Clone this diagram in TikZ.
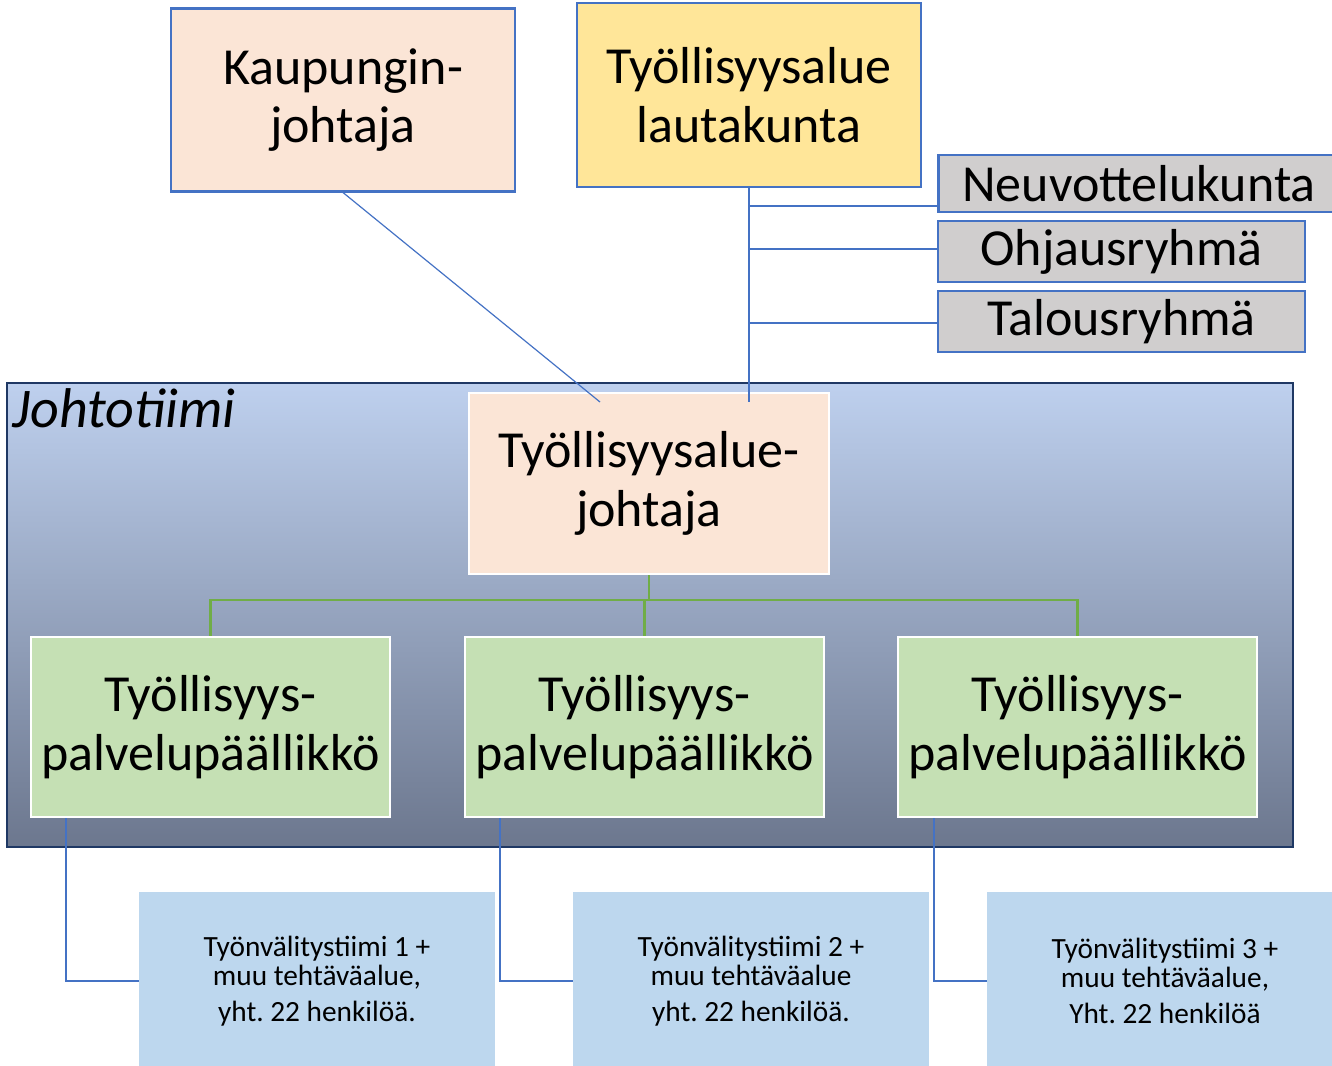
\documentclass[tikz,border=0pt]{standalone}
\usepackage{fontspec}
\setmainfont{Carlito}
\usetikzlibrary{calc}
\frenchspacing

\tikzset{every picture/.style={line width=0.75pt}}

\begin{document}
\begin{tikzpicture}[x=0.75pt,y=0.75pt,yscale=-1,xscale=1,
  bigtext/.style={font=\fontsize{39}{44}\selectfont, align=center, inner sep=0pt},
  smalltext/.style={font=\fontsize{22}{22}\selectfont, align=center, inner sep=0pt},
  bluebox/.style={bigtext, draw={rgb, 255:red, 68; green, 114; blue, 196 }, line width=1.8pt},
  whitebox/.style={bigtext, draw=white, line width=1.8pt},
  peach/.style={fill={rgb, 255:red, 251; green, 229; blue, 214 }},
  yellow/.style={fill={rgb, 255:red, 255; green, 230; blue, 153 }},
  grey/.style={fill={rgb, 255:red, 208; green, 206; blue, 206 }},
  green/.style={fill={rgb, 255:red, 197; green, 224; blue, 180 }},
  teambox/.style={smalltext, fill={rgb, 255:red, 189; green, 215; blue, 238 }, minimum width=267pt, minimum height=133pt},
  bluethin/.style={draw={rgb, 255:red, 68; green, 114; blue, 196 }, line width=0.9pt},
  blueline/.style={draw={rgb, 255:red, 68; green, 114; blue, 196 }, line width=1.8pt},
  greenline/.style={draw={rgb, 255:red, 112; green, 173; blue, 71 }, line width=2.2pt}]
\useasboundingbox (0,0) rectangle (1332,1066);
\clip (0,0) rectangle (1332,1066);

%Shape: Rectangle (Johtotiimi frame)
\draw [draw={rgb, 255:red, 31; green, 56; blue, 100 }, line width=1.8pt,
  top color={rgb, 255:red, 190; green, 208; blue, 238 },
  middle color={rgb, 255:red, 163; green, 178; blue, 206 },
  bottom color={rgb, 255:red, 108; green, 119; blue, 142 }] (7,383) rectangle (1293,847) ;
% Text Node
\draw (12,408) node (jtlabel) [bigtext, anchor=west, font=\fontsize{42}{44}\selectfont\itshape] {Johtotiimi};

% Top boxes
\draw (343,100) node (kj) [bluebox, peach, minimum width=258pt, minimum height=137pt] {Kaupungin-\\johtaja};
\draw (749,95) node (ltk) [bluebox, yellow, minimum width=258pt, minimum height=138pt] {Työllisyysalue\\lautakunta};
\draw (1139,183.5) node (neuv) [bluebox, grey, minimum width=301pt, minimum height=43pt] {Neuvottelukunta};
\draw (1121.5,251.5) node (ohj) [bluebox, grey, minimum width=275pt, minimum height=46pt] {Ohjausryhmä};
\draw (1121.5,321.5) node (tal) [bluebox, grey, minimum width=275pt, minimum height=46pt] {Talousryhmä};

% Johtotiimi boxes
\draw (649,483.5) node (tj) [whitebox, peach, minimum width=270pt, minimum height=136pt] {Työllisyysalue-\\johtaja};
\draw (210.5,727) node (p1) [whitebox, green, minimum width=269pt, minimum height=135pt] {Työllisyys-\\palvelupäällikkö};
\draw (644.5,727) node (p2) [whitebox, green, minimum width=269pt, minimum height=135pt] {Työllisyys-\\palvelupäällikkö};
\draw (1077.5,727) node (p3) [whitebox, green, minimum width=269pt, minimum height=135pt] {Työllisyys-\\palvelupäällikkö};

% Team boxes
\draw (317,981) node (t1) [teambox] {Työnvälitystiimi 1 +\\muu tehtäväalue,\\[5pt]yht. 22 henkilöä.};
\draw (751,981) node (t2) [teambox] {Työnvälitystiimi 2 +\\muu tehtäväalue\\[5pt]yht. 22 henkilöä.};
\draw (1165,981) node (t3) [teambox] {Työnvälitystiimi 3 +\\muu tehtäväalue,\\[5pt]Yht. 22 henkilöä};

% Connectors
\coordinate (kjend) at (600,402);
\draw [bluethin] (kj.south) -- (kjend) ;
\draw [bluethin] (ltk.south) -- (ltk.south |- kjend) ;
\draw [bluethin] ($(neuv.west)+(0,22.5)$) -- (ltk.south |- {$(neuv.west)+(0,22.5)$}) ;
\draw [bluethin] ($(ohj.west)+(0,-2.5)$) -- (ltk.south |- {$(ohj.west)+(0,-2.5)$}) ;
\draw [bluethin] ($(tal.west)+(0,1.5)$) -- (ltk.south |- {$(tal.west)+(0,1.5)$}) ;

\coordinate (gbar) at (649,600);
\draw [greenline] (tj.south) -- (gbar) ;
\draw [greenline] (p1.north) |- (gbar) ;
\draw [greenline] (p3.north) |- (gbar) ;
\draw [greenline] (p2.north) -- (p2.north |- gbar) ;

\draw [blueline] ($(p1.south west)+(36,0)$) |- (t1.west) ;
\draw [blueline] ($(p2.south west)+(36,0)$) |- (t2.west) ;
\draw [blueline] ($(p3.south west)+(37,0)$) |- (t3.west) ;

\end{tikzpicture}
\end{document}
